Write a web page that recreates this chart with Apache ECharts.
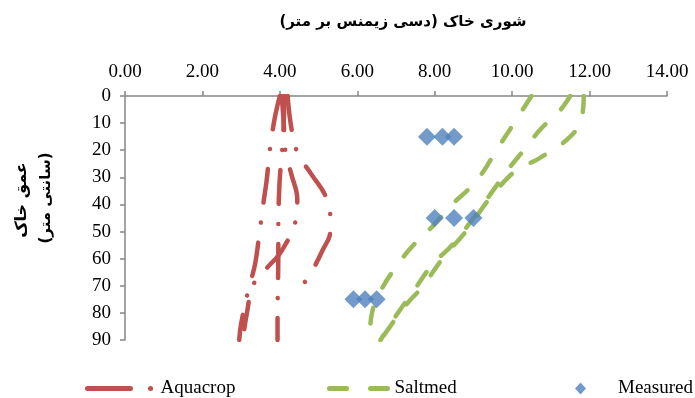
<!DOCTYPE html>
<html>
<head>
<meta charset="utf-8">
<script src="https://cdn.jsdelivr.net/npm/echarts@6/dist/echarts.min.js"></script>
<style>
  html, body { margin: 0; padding: 0; background: #fff; }
  #chart { width: 695px; height: 398px; }
</style>
</head>
<body>
<div id="chart"></div>
<script>
// Soil salinity profiles: each entry is [salinity dS/m, depth cm]
const aquacrop1 = [[4.12, 0], [4.10, 10], [4.06, 20], [4.00, 30], [3.97, 40], [3.96, 50], [3.96, 60], [3.95, 70], [3.94, 80], [3.94, 90]];
const aquacrop2 = [[4.00, 0], [3.87, 8], [3.74, 20], [3.66, 31], [3.57, 40], [3.46, 52], [3.36, 62], [3.18, 72], [3.00, 84], [2.95, 90]];
const aquacrop3 = [[4.20, 0], [4.30, 12], [4.46, 21], [4.82, 29], [5.15, 36], [5.30, 43], [5.30, 50], [5.10, 57], [4.85, 64], [4.58, 70]];
const aquacrop4 = [[4.05, 0], [4.10, 10], [4.15, 21], [4.30, 29], [4.45, 38], [4.42, 45], [4.05, 57], [3.63, 64], [3.30, 70], [3.15, 80], [3.08, 86]];

const saltmed1 = [[10.50, 0], [10.05, 10], [9.55, 21], [9.25, 28], [8.90, 34], [8.45, 40], [7.95, 48], [7.45, 55], [7.00, 63], [6.60, 72], [6.38, 80], [6.32, 90]];
const saltmed2 = [[11.50, 0], [11.20, 6], [10.75, 12], [10.30, 20], [9.90, 27], [9.50, 35], [9.00, 45], [8.45, 55], [7.95, 62], [7.45, 72], [7.05, 80], [6.60, 90]];
const saltmed3 = [[11.85, 0], [11.80, 8], [11.50, 15], [10.70, 23], [10.15, 27], [9.70, 33], [9.30, 40], [8.80, 50], [8.20, 60], [7.70, 70], [7.20, 78], [6.80, 86], [6.60, 90]];

const measured = [[7.80, 15], [8.20, 15], [8.50, 15], [8.00, 45], [8.50, 45], [9.00, 45], [5.90, 75], [6.20, 75], [6.50, 75]];

const xTicks = { min: 0, max: 14, step: 2 };
const yTicks = { min: 0, max: 90, step: 10 };

const titleText = 'شوری خاک (دسی زیمنس بر متر)';
const depthName = 'عمق خاک';
const depthUnit = '(سانتی متر)';

const RED = '#C0504D', GREEN = '#9BBB59', BLUE = '#4F81BD';
const serif = 'Liberation Serif';
const arabicFont = 'DejaVu Sans';

function aquaSeries(data) {
  return {
    name: 'Aquacrop', type: 'line', data, smooth: 0.4, symbol: 'none',
    lineStyle: { color: RED, width: 4.5, type: [34, 20, 0.1, 20], cap: 'round' },
    itemStyle: { color: RED }, z: 2
  };
}
function saltSeries(data) {
  return {
    name: 'Saltmed', type: 'line', data, smooth: 0.4, symbol: 'none',
    lineStyle: { color: GREEN, width: 4.5, type: [16, 22], cap: 'round' },
    itemStyle: { color: GREEN }, z: 2
  };
}

const chart = echarts.init(document.getElementById('chart'), null, { renderer: 'canvas' });
const legendText = { fontFamily: serif, fontSize: 19, color: '#000' };

chart.setOption({
  animation: false,
  backgroundColor: '#fff',
  title: {
    text: titleText, left: 398, top: 10, textAlign: 'center',
    textStyle: { fontFamily: arabicFont, fontSize: 15, fontWeight: 'bold', color: '#000' }
  },
  grid: { left: 125, right: 28, top: 96, bottom: 58 },
  xAxis: {
    type: 'value', position: 'top', min: xTicks.min, max: xTicks.max, interval: xTicks.step,
    axisLine: { lineStyle: { color: '#868686', width: 1.5 } },
    axisTick: { show: true, inside: false, length: 5, lineStyle: { color: '#868686', width: 1.5 } },
    axisLabel: { formatter: v => v.toFixed(2), fontFamily: serif, fontSize: 19, color: '#000', margin: 14 },
    splitLine: { show: false }
  },
  yAxis: {
    type: 'value', inverse: true, min: yTicks.min, max: yTicks.max, interval: yTicks.step,
    axisLine: { show: true, lineStyle: { color: '#868686', width: 1.5 } },
    axisTick: { show: true, inside: false, length: 5, lineStyle: { color: '#868686', width: 1.5 } },
    axisLabel: { fontFamily: serif, fontSize: 19, color: '#000', margin: 14 },
    splitLine: { show: false }
  },
  legend: [
    { data: ['Aquacrop'], left: 80, top: 374, itemWidth: 68, itemHeight: 12, textStyle: legendText,
      itemStyle: { opacity: 0 },
      lineStyle: { width: 5, type: [43, 20, 0.1, 20], cap: 'round' } },
    { data: ['Saltmed'], left: 322, top: 374, itemWidth: 60, itemHeight: 12, textStyle: legendText,
      itemStyle: { opacity: 0 },
      lineStyle: { width: 5, type: [17, 24], cap: 'round' } },
    { data: [{ name: 'Measured', icon: 'diamond' }], left: 570, top: 374, itemWidth: 11, itemHeight: 12,
      textStyle: Object.assign({ padding: [0, 0, 0, 27] }, legendText) }
  ],
  graphic: [
    { type: 'text', x: 22, y: 200, rotation: Math.PI / 2,
      style: { text: depthName, fontFamily: arabicFont, fontSize: 16, fontWeight: 'bold', fill: '#000', align: 'center', verticalAlign: 'middle' } },
    { type: 'text', x: 46, y: 198, rotation: Math.PI / 2,
      style: { text: depthUnit, fontFamily: arabicFont, fontSize: 15, fontWeight: 'bold', fill: '#000', align: 'center', verticalAlign: 'middle' } }
  ],
  series: [
    aquaSeries(aquacrop1), aquaSeries(aquacrop2), aquaSeries(aquacrop3), aquaSeries(aquacrop4),
    saltSeries(saltmed1), saltSeries(saltmed2), saltSeries(saltmed3),
    {
      name: 'Measured', type: 'scatter', data: measured, symbol: 'diamond', symbolSize: 18,
      itemStyle: { color: BLUE }, z: 3
    }
  ]
});
</script>
</body>
</html>
